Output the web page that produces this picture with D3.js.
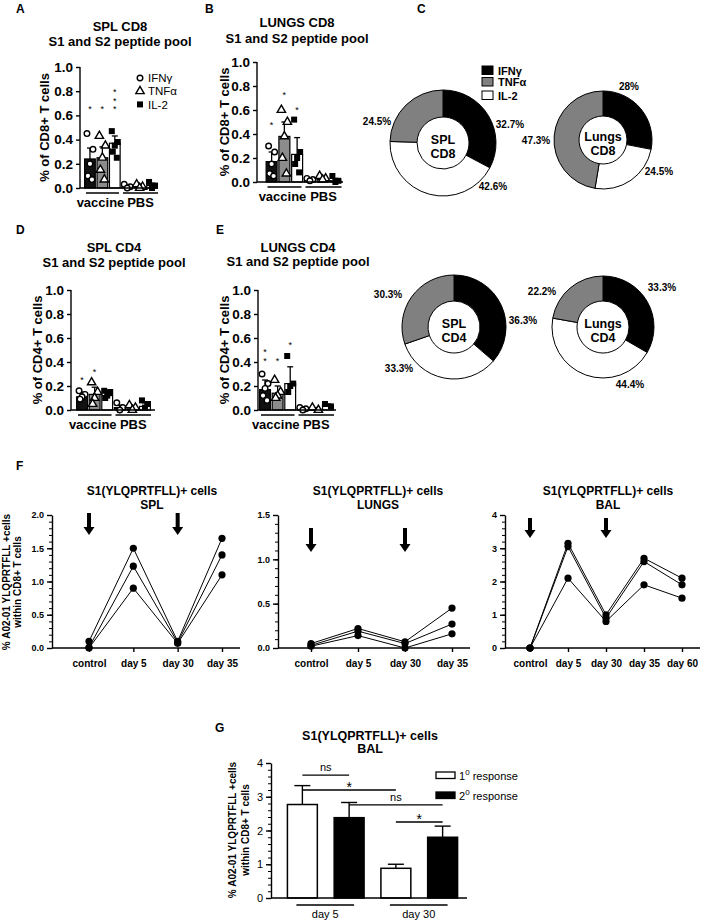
<!DOCTYPE html>
<html><head><meta charset="utf-8">
<script src="https://cdn.jsdelivr.net/npm/d3@7"></script>
<style>
body{margin:0;background:#fff;}
svg{display:block;font-family:"Liberation Sans",Arial,Helvetica,sans-serif;}
</style></head><body>
<svg id="c" width="709" height="921"></svg>
<script>
// ================= DATA =================
const cytokines = ["IFNγ", "TNFα", "IL-2"];
const groups = ["vaccine", "PBS"];
const barTicks = [0, 0.2, 0.4, 0.6, 0.8, 1.0];

// A: SPL CD8 (slots: vaccine IFNγ, TNFα, IL-2, PBS IFNγ, TNFα, IL-2)
const splCD8Mean = [0.24, 0.25, 0.37, 0.01, 0.01, 0.02];
const splCD8Err  = [0.33, 0.34, 0.43, 0.02, 0.03, 0.04];
const splCD8Pts  = [[0.45,0.32,0.20,0.10,0.07],[0.43,0.35,0.25,0.15,0.07],[0.47,0.38,0.35,0.30,0.25],[0.03,0.01,0.00],[0.03,0.01,0.00],[0.05,0.02,0.00]];
const splCD8Stars = [1, 1, 3, 0, 0, 0];

// B: LUNGS CD8
const lungCD8Mean = [0.17, 0.38, 0.23, 0.01, 0.02, 0.01];
const lungCD8Err  = [0.25, 0.50, 0.37, 0.02, 0.04, 0.03];
const lungCD8Pts  = [[0.30,0.25,0.15,0.07,0.05],[0.60,0.50,0.38,0.20,0.07],[0.52,0.25,0.20,0.15,0.08],[0.03,0.02,0.01],[0.05,0.03,0.02],[0.05,0.01,0.00]];
const lungCD8Stars = [1, 1, 1, 0, 0, 0];

// D: SPL CD4
const splCD4Mean = [0.11, 0.13, 0.12, 0.02, 0.01, 0.03];
const splCD4Err  = [0.15, 0.19, 0.16, 0.04, 0.03, 0.06];
const splCD4Pts  = [[0.16,0.13,0.11,0.09],[0.23,0.15,0.10,0.05],[0.16,0.15,0.12,0.10],[0.06,0.02,0.00],[0.04,0.02,0.00],[0.08,0.05,0.02]];
const splCD4Stars = [1, 1, 0, 0, 0, 0];

// E: LUNGS CD4
const lungCD4Mean = [0.17, 0.14, 0.22, 0.01, 0.01, 0.04];
const lungCD4Err  = [0.25, 0.20, 0.36, 0.02, 0.02, 0.05];
const lungCD4Pts  = [[0.30,0.22,0.18,0.12,0.08],[0.25,0.15,0.12,0.10],[0.45,0.22,0.20,0.15],[0.02,0.01,0.00],[0.02,0.00],[0.05,0.03]];
const lungCD4Stars = [2, 1, 1, 0, 0, 0];

// C: donut percentages (IFNγ, TNFα, IL-2)
const donutSplCD8  = [32.7, 24.5, 42.6];
const donutLungCD8 = [28, 47.3, 24.5];
const donutSplCD4  = [36.3, 30.3, 33.3];
const donutLungCD4 = [33.3, 22.2, 44.4];

// F: time courses (3 animals each)
const timeA = ["control", "day 5", "day 30", "day 35"];
const timeBAL = ["control", "day 5", "day 30", "day 35", "day 60"];
const fSPL  = [[0.10,1.50,0.10,1.65],[0.01,1.23,0.08,1.40],[0.00,0.90,0.07,1.10]];
const fLUNG = [[0.05,0.22,0.07,0.45],[0.03,0.19,0.05,0.27],[0.02,0.14,0.00,0.16]];
const fBAL  = [[0.0,3.15,1.0,2.7,2.1],[0.0,3.05,0.9,2.6,1.9],[0.0,2.1,0.8,1.9,1.5]];
const boostDays = ["control", "day 30"];

// G
const gDays = ["day 5", "day 30"];
const gResp = ["1", "2"];
const gMean = [2.77, 2.38, 0.88, 1.80];   // day5 1°, day5 2°, day30 1°, day30 2°
const gErr  = [3.33, 2.83, 1.00, 2.13];
const gComparisons = [[0,1,"ns"],[0,2,"*"],[1,3,"ns"],[2,3,"*"]];

// ================= STYLE / LAYOUT =================
const svg = d3.select("#c");
const barFill = ["#111111", "#8c8c8c", "#ffffff"];
const donutFill = ["#000000", "#808080", "#ffffff"];
const donutOrder = [0, 2, 1];
const jit = [-3, 3, 0, -2, 2];

function txt(g, x, y, s, o = {}) {
  return g.append("text").attr("x", x).attr("y", y).text(s)
    .attr("font-size", o.size || 12).attr("font-weight", o.weight || "normal")
    .attr("text-anchor", o.anchor || "middle").attr("fill", "#000");
}
function rtxt(g, x, y, s, o = {}) {
  return g.append("text").attr("transform", `translate(${x},${y}) rotate(-90)`).text(s)
    .attr("font-size", o.size || 12).attr("font-weight", o.weight || "bold")
    .attr("text-anchor", "middle").attr("fill", "#000");
}
function marker(g, k, x, y) {
  if (k === 0) g.append("circle").attr("cx", x).attr("cy", y).attr("r", 2.8)
      .attr("fill", "#fff").attr("stroke", "#000").attr("stroke-width", 1.4);
  else if (k === 1) g.append("path").attr("d", d3.symbol(d3.symbolTriangle, 30)())
      .attr("transform", `translate(${x},${y})`).attr("fill", "#fff").attr("stroke", "#000").attr("stroke-width", 1.4);
  else g.append("rect").attr("x", x - 3).attr("y", y - 3).attr("width", 6).attr("height", 6).attr("fill", "#000");
}
function styleAxis(a, size, weight) {
  a.selectAll("path,line").attr("stroke", "#000").attr("stroke-width", 1.4);
  a.selectAll("text").attr("font-size", size).attr("font-weight", weight).attr("fill", "#000")
    .attr("font-family", '"Liberation Sans",Arial,sans-serif');
}

function barPanel(o) {
  const g = svg.append("g");
  const y = d3.scaleLinear().domain([0, 1]).range([o.y0, o.y1]);
  const x = d3.scaleBand().domain(d3.range(6)).range(o.xr).paddingInner(0.14).paddingOuter(0.05);
  const bw = x.bandwidth(), cx = i => x(i) + bw / 2;
  g.selectAll("rect.bar").data(o.mean).join("rect").attr("class", "bar")
    .attr("x", (d, i) => x(i)).attr("width", bw)
    .attr("y", d => y(d)).attr("height", d => y(0) - y(d))
    .attr("fill", (d, i) => barFill[i % 3]).attr("stroke", "#000").attr("stroke-width", 1.2);
  o.err.forEach((e, i) => {
    g.append("line").attr("x1", cx(i)).attr("x2", cx(i)).attr("y1", y(o.mean[i])).attr("y2", y(e)).attr("stroke", "#000").attr("stroke-width", 1.3);
    g.append("line").attr("x1", cx(i) - 3).attr("x2", cx(i) + 3).attr("y1", y(e)).attr("y2", y(e)).attr("stroke", "#000").attr("stroke-width", 1.3);
  });
  o.pts.forEach((arr, i) => arr.forEach((v, j) => marker(g, i % 3, cx(i) + jit[j % jit.length], y(v))));
  o.stars.forEach((n, i) => {
    if (!n) return;
    const t = g.append("text").attr("font-size", 9).attr("text-anchor", "middle").attr("fill", "#000");
    for (let j = 0; j < n; j++) {
      t.append("tspan").attr("x", cx(i)).attr("y", y(o.starBase[i]) - (n - 1 - j) * 8.5 + 5.5).text("*");
    }
  });
  const ax = g.append("g").attr("transform", `translate(${o.x0},0)`)
    .call(d3.axisLeft(y).tickValues(barTicks).tickFormat(d3.format(".1f")).tickSize(4).tickSizeOuter(0));
  styleAxis(ax, 13.5, "bold");
  ax.select(".domain").attr("d", `M0,${y(0)}V${y(1)}`);
  g.append("line").attr("x1", o.x0).attr("x2", o.xEnd).attr("y1", y(0)).attr("y2", y(0)).attr("stroke", "#000").attr("stroke-width", 1.4);
  const mid = (o.xr[0] + o.xr[1]) / 2;
  const spans = [[o.xr[0] + 2, mid - 2], [mid + 2, o.xr[1]]];
  groups.forEach((gname, k) => {
    g.append("line").attr("x1", spans[k][0]).attr("x2", spans[k][1]).attr("y1", y(0) + 5).attr("y2", y(0) + 5).attr("stroke", "#000").attr("stroke-width", 1.6);
    txt(g, (spans[k][0] + spans[k][1]) / 2 + (k === 0 ? -2 : 0), y(0) + 19, gname, { size: 13, weight: "bold" });
  });
  rtxt(g, o.ylx, (o.y0 + o.y1) / 2, o.ylab, { size: 13 });
  txt(g, o.tx, o.ty[0], o.title[0], { size: 13, weight: "bold" });
  txt(g, o.tx, o.ty[1], o.title[1], { size: 13, weight: "bold" });
  txt(g, o.lx, o.ly, o.letter, { size: 12, weight: "bold", anchor: "start" });
}

barPanel({ letter: "A", lx: 16, ly: 13, title: ["SPL CD8", "S1 and S2 peptide pool"], tx: 120, ty: [31, 46],
  x0: 80, xr: [84, 158], xEnd: 158, y0: 188, y1: 67, ylab: "% of CD8+ T cells", ylx: 49,
  mean: splCD8Mean, err: splCD8Err, pts: splCD8Pts, stars: splCD8Stars, starBase: [0.67, 0.67, 0.67] });
barPanel({ letter: "B", lx: 205, ly: 13, title: ["LUNGS CD8", "S1 and S2 peptide pool"], tx: 297, ty: [27, 43],
  x0: 257, xr: [265.5, 341.5], xEnd: 343, y0: 182, y1: 62, ylab: "% of CD8+ T cells", ylx: 229,
  mean: lungCD8Mean, err: lungCD8Err, pts: lungCD8Pts, stars: lungCD8Stars, starBase: [0.5, 0.75, 0.62] });
barPanel({ letter: "D", lx: 16, ly: 234, title: ["SPL CD4", "S1 and S2 peptide pool"], tx: 114, ty: [252, 267],
  x0: 71, xr: [76, 151], xEnd: 155, y0: 410, y1: 290, ylab: "% of CD4+ T cells", ylx: 42,
  mean: splCD4Mean, err: splCD4Err, pts: splCD4Pts, stars: splCD4Stars, starBase: [0.275, 0.34, 0] });
barPanel({ letter: "E", lx: 216, ly: 234, title: ["LUNGS CD4", "S1 and S2 peptide pool"], tx: 298, ty: [252, 266],
  x0: 258, xr: [259, 334], xEnd: 336, y0: 410, y1: 290, ylab: "% of CD4+ T cells", ylx: 229,
  mean: lungCD4Mean, err: lungCD4Err, pts: lungCD4Pts, stars: lungCD4Stars, starBase: [0.43, 0.43, 0.56] });

// Legend A
{
  const g = svg.append("g");
  const ly = [78, 91.2, 104.4];
  cytokines.forEach((c, k) => {
    marker(g, k, 140, ly[k]);
    txt(g, 148, ly[k] + 4.2, c, { size: 11.5, anchor: "start" });
  });
}

// ================= C: donuts =================
txt(svg, 417, 13, "C", { size: 12, weight: "bold", anchor: "start" });
{
  const g = svg.append("g");
  const ly = [66, 77.5, 91];
  const t = g.append("text").attr("font-size", 11).attr("font-weight", "bold").attr("fill", "#000");
  cytokines.forEach((c, k) => {
    g.append("rect").attr("x", 482).attr("y", ly[k]).attr("width", 11).attr("height", 8.5)
      .attr("fill", donutFill[k]).attr("stroke", "#000").attr("stroke-width", 1);
    t.append("tspan").attr("x", 498).attr("y", ly[k] + 8.5).text(c);
  });
}
function donut(o) {
  const g = svg.append("g").attr("transform", `translate(${o.cx},${o.cy})`);
  const pie = d3.pie().sort(null).value(d => d.v);
  const data = donutOrder.map(k => ({ k, v: o.vals[k] }));
  const arc = d3.arc().innerRadius(o.ri).outerRadius(o.ro);
  g.selectAll("path").data(pie(data)).join("path").attr("d", arc)
    .attr("fill", d => donutFill[d.data.k]).attr("stroke", "#000").attr("stroke-width", 1);
  const t = g.append("text").attr("font-size", 12.5).attr("font-weight", "bold").attr("text-anchor", "middle").attr("fill", "#000");
  t.append("tspan").attr("x", 0).attr("y", 1).text(o.name[0]);
  t.append("tspan").attr("x", 0).attr("y", 15).text(o.name[1]);
  o.vals.forEach((v, k) => {
    txt(g, o.lab[k][0], o.lab[k][1] + 3.5, v + "%", { size: 10, weight: "bold" });
  });
}
donut({ vals: donutSplCD8, cx: 443, cy: 143, ro: 53, ri: 26, name: ["SPL", "CD8"], lab: [[67, -19], [-66, -22], [50, 43]] });
donut({ vals: donutLungCD8, cx: 603, cy: 140, ro: 49, ri: 24, name: ["Lungs", "CD8"], lab: [[26, -54], [-67, 0], [56, 31]] });
donut({ vals: donutSplCD4, cx: 454, cy: 327, ro: 52, ri: 26, name: ["SPL", "CD4"], lab: [[69, -7], [-66, -33], [-55, 41]] });
donut({ vals: donutLungCD4, cx: 603, cy: 327, ro: 51, ri: 26, name: ["Lungs", "CD4"], lab: [[59, -40], [-61, -36], [27, 57]] });

// ================= F: time courses =================
txt(svg, 16, 470, "F", { size: 12, weight: "bold", anchor: "start" });
function steps(max, step) { return d3.range(0, Math.round(max / step) + 1).map(i => +(i * step).toFixed(3)); }
function lineChart(o) {
  const g = svg.append("g");
  const y = d3.scaleLinear().domain([0, o.max]).range([648, 515]);
  const x = d3.scalePoint().domain(o.cats).range(o.xr);
  const minor = g.append("g").attr("transform", `translate(${o.x0},0)`)
    .call(d3.axisLeft(y).tickValues(steps(o.max, o.minor)).tickFormat("").tickSize(3).tickSizeOuter(0));
  styleAxis(minor, 9, "bold");
  minor.selectAll("line").attr("stroke-width", 1);
  const major = g.append("g").attr("transform", `translate(${o.x0},0)`)
    .call(d3.axisLeft(y).tickValues(steps(o.max, o.major)).tickFormat(d3.format(o.fmt)).tickSize(5).tickSizeOuter(0));
  styleAxis(major, 9, "bold");
  major.selectAll(".domain").remove();
  const xa = g.append("g").attr("transform", `translate(0,${y(0)})`)
    .call(d3.axisBottom(x).tickSize(4).tickSizeOuter(0));
  styleAxis(xa, 10, "bold");
  xa.select(".domain").remove();
  xa.selectAll("text").attr("dy", "1.2em");
  g.append("line").attr("x1", o.x0).attr("x2", o.xEnd).attr("y1", y(0)).attr("y2", y(0)).attr("stroke", "#000").attr("stroke-width", 1.4);
  const line = d3.line().x((d, i) => x(o.cats[i])).y(d => y(d));
  o.series.forEach(s => {
    g.append("path").attr("d", line(s)).attr("fill", "none").attr("stroke", "#000").attr("stroke-width", 1);
    s.forEach((v, i) => g.append("circle").attr("cx", x(o.cats[i])).attr("cy", y(v)).attr("r", 3.6).attr("fill", "#000"));
  });
  boostDays.forEach(d => {
    const ax = x(d), t = o.arrowTop, L = o.arrowLen;
    g.append("path").attr("d", `M${ax - 2},${t}L${ax + 2},${t}L${ax + 2},${t + L - 8}L${ax + 5.5},${t + L - 8}L${ax},${t + L}L${ax - 5.5},${t + L - 8}L${ax - 2},${t + L - 8}Z`).attr("fill", "#000");
  });
  txt(g, o.tx, 495, "S1(YLQPRTFLL)+ cells", { size: 12, weight: "bold" });
  txt(g, o.tx, 509, o.sub, { size: 12, weight: "bold" });
}
lineChart({ cats: timeA, series: fSPL, max: 2, major: 0.5, minor: 0.1, fmt: ".1f", x0: 52, xEnd: 240, xr: [89, 222], tx: 152, sub: "SPL", arrowTop: 513, arrowLen: 22 });
lineChart({ cats: timeA, series: fLUNG, max: 1.5, major: 0.5, minor: 0.1, fmt: ".1f", x0: 278, xEnd: 470, xr: [311, 452], tx: 378, sub: "LUNGS", arrowTop: 528, arrowLen: 24 });
lineChart({ cats: timeBAL, series: fBAL, max: 4, major: 1, minor: 0.2, fmt: "d", x0: 505, xEnd: 700, xr: [530, 682], tx: 608, sub: "BAL", arrowTop: 518, arrowLen: 20 });
rtxt(svg, 10, 582, "% A02-01 YLQPRTFLL +cells", { size: 10 });
rtxt(svg, 21, 582, "within CD8+ T cells", { size: 10 });

// ================= G =================
{
  const g = svg.append("g");
  txt(g, 215, 732, "G", { size: 12, weight: "bold", anchor: "start" });
  const y = d3.scaleLinear().domain([0, 4]).range([898, 763]);
  const x = d3.scaleBand().domain(d3.range(4)).range([279, 466]).paddingInner(0.36).paddingOuter(0.18);
  const bw = x.bandwidth(), cx = i => x(i) + bw / 2;
  gErr.forEach((e, i) => {
    g.append("line").attr("x1", cx(i)).attr("x2", cx(i)).attr("y1", y(gMean[i])).attr("y2", y(e)).attr("stroke", "#000").attr("stroke-width", 1.4);
    g.append("line").attr("x1", cx(i) - 8).attr("x2", cx(i) + 8).attr("y1", y(e)).attr("y2", y(e)).attr("stroke", "#000").attr("stroke-width", 1.4);
  });
  g.selectAll("rect.gb").data(gMean).join("rect").attr("class", "gb")
    .attr("x", (d, i) => x(i)).attr("width", bw).attr("y", d => y(d)).attr("height", d => y(0) - y(d))
    .attr("fill", (d, i) => i % 2 ? "#000" : "#fff").attr("stroke", "#000").attr("stroke-width", 1.5);
  const minor = g.append("g").attr("transform", "translate(271,0)")
    .call(d3.axisLeft(y).tickValues(steps(4, 0.2)).tickFormat("").tickSize(3).tickSizeOuter(0));
  styleAxis(minor, 11, "normal");
  minor.selectAll("line").attr("stroke-width", 1);
  const major = g.append("g").attr("transform", "translate(271,0)")
    .call(d3.axisLeft(y).tickValues(steps(4, 1)).tickFormat(d3.format("d")).tickSize(5).tickSizeOuter(0));
  styleAxis(major, 11, "normal");
  major.selectAll(".domain").remove();
  g.append("line").attr("x1", 271).attr("x2", 467).attr("y1", y(0)).attr("y2", y(0)).attr("stroke", "#000").attr("stroke-width", 1.4);
  gDays.forEach((d, k) => {
    const a = x(2 * k) + 9, b = x(2 * k + 1) + bw - 10;
    g.append("line").attr("x1", a).attr("x2", b).attr("y1", 905).attr("y2", 905).attr("stroke", "#000").attr("stroke-width", 1.4);
    txt(g, (a + b) / 2, 918, d, { size: 11 });
  });
  const compY = [3.64, 3.2, 2.76, 2.25];
  gComparisons.forEach((c, k) => {
    const ly = y(compY[k]);
    g.append("line").attr("x1", cx(c[0])).attr("x2", cx(c[1])).attr("y1", ly).attr("y2", ly).attr("stroke", "#000").attr("stroke-width", 1.4);
    const mx = (cx(c[0]) + cx(c[1])) / 2;
    if (c[2] === "ns") txt(g, mx, ly - 4, "ns", { size: 11 });
    else txt(g, mx, ly + 2, "*", { size: 14 });
  });
  // legend
  const lyy = [772, 792];
  gResp.forEach((r, k) => {
    g.append("rect").attr("x", 436).attr("y", lyy[k]).attr("width", 19).attr("height", 6.5)
      .attr("fill", k ? "#000" : "#fff").attr("stroke", "#000").attr("stroke-width", 1.3);
    const t = txt(g, 459, lyy[k] + 7.5, "", { size: 11, anchor: "start" });
    t.append("tspan").text(r);
    t.append("tspan").attr("dy", -5).attr("font-size", 8).text("0");
    t.append("tspan").attr("dy", 5).text(" response");
  });
  const tt = g.append("text").attr("font-size", 12.5).attr("font-weight", "bold").attr("text-anchor", "middle").attr("fill", "#000");
  tt.append("tspan").attr("x", 370).attr("y", 740).text("S1(YLQPRTFLL)+ cells");
  tt.append("tspan").attr("x", 370).attr("y", 753).text("BAL");
  rtxt(g, 236, 830, "% A02-01 YLQPRTFLL +cells", { size: 10 });
  rtxt(g, 249, 830, "within CD8+ T cells", { size: 10 });
}
</script>
</body></html>
